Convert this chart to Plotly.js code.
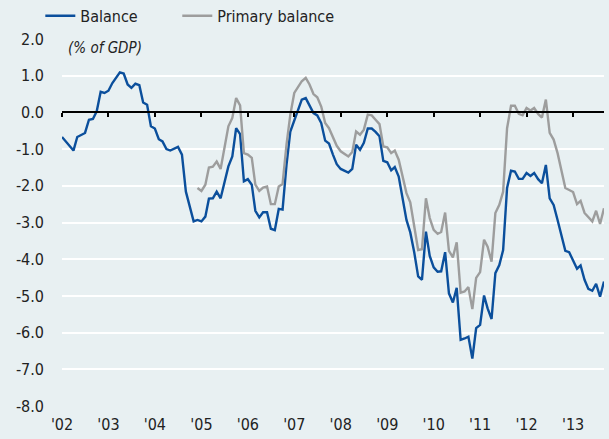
<!DOCTYPE html>
<html>
<head>
<meta charset="utf-8">
<script src="https://cdn.plot.ly/plotly-3.0.1.min.js"></script>
<style>
html,body{margin:0;padding:0;background:#e8f0f2;}
#chart{width:609px;height:439px;}
</style>
</head>
<body>
<div id="chart"></div>
<script>
// Balance (% of GDP), monthly
var balanceDates = [
"2002-01-01","2002-04-01","2002-05-01","2002-07-01","2002-08-01","2002-09-01","2002-10-01","2002-11-01","2002-12-01",
"2003-01-01","2003-02-01","2003-04-01","2003-05-01","2003-06-01","2003-07-01","2003-08-01","2003-09-01","2003-10-01","2003-11-01","2003-12-01",
"2004-01-01","2004-02-01","2004-03-01","2004-04-01","2004-05-01","2004-07-01","2004-08-01","2004-09-01","2004-11-01","2004-12-01",
"2005-01-01","2005-02-01","2005-03-01","2005-04-01","2005-05-01","2005-06-01","2005-08-01","2005-09-01","2005-10-01","2005-11-01","2005-12-01",
"2006-01-01","2006-02-01","2006-03-01","2006-04-01","2006-05-01","2006-06-01","2006-07-01","2006-08-01","2006-09-01","2006-10-01","2006-11-01","2006-12-01",
"2007-02-01","2007-03-01","2007-04-01","2007-05-01","2007-06-01","2007-07-01","2007-08-01","2007-09-01","2007-10-01","2007-11-01","2007-12-01",
"2008-01-01","2008-03-01","2008-04-01","2008-05-01","2008-06-01","2008-07-01","2008-08-01","2008-09-01","2008-10-01","2008-11-01","2008-12-01",
"2009-01-01","2009-02-01","2009-03-01","2009-04-01","2009-05-01","2009-06-01","2009-07-01","2009-08-01","2009-09-01","2009-10-01","2009-11-01","2009-12-01",
"2010-01-01","2010-02-01","2010-03-01","2010-04-01","2010-05-01","2010-06-01","2010-07-01","2010-08-01","2010-09-01","2010-10-01","2010-11-01","2010-12-01",
"2011-01-01","2011-02-01","2011-03-01","2011-04-01","2011-05-01","2011-06-01","2011-07-01","2011-08-01","2011-09-01","2011-10-01","2011-11-01","2011-12-01",
"2012-01-01","2012-02-01","2012-03-01","2012-04-01","2012-05-01","2012-06-01","2012-07-01","2012-08-01","2012-09-01","2012-11-01","2012-12-01",
"2013-01-01","2013-02-01","2013-03-01","2013-04-01","2013-05-01","2013-06-01","2013-07-01","2013-08-01","2013-09-01"
];
var balanceValues = [
-0.67,-1.04,-0.67,-0.56,-0.20,-0.18,0.03,0.56,0.53,
0.59,0.80,1.09,1.06,0.76,0.67,0.78,0.74,0.27,0.21,-0.38,
-0.44,-0.73,-0.79,-1.00,-1.04,-0.94,-1.15,-2.16,-2.97,-2.93,
-2.97,-2.84,-2.35,-2.34,-2.16,-2.34,-1.47,-1.20,-0.43,-0.59,-1.88,
-1.82,-1.97,-2.68,-2.86,-2.72,-2.72,-3.17,-3.21,-2.63,-2.65,-1.43,-0.52,
0.12,0.35,0.39,0.19,-0.02,-0.08,-0.29,-0.77,-0.85,-1.15,-1.41,
-1.54,-1.64,-1.54,-0.88,-1.02,-0.83,-0.44,-0.44,-0.53,-0.65,-1.32,
-1.36,-1.58,-1.49,-1.75,-2.38,-2.93,-3.27,-3.81,-4.47,-4.56,-3.25,-3.91,
-4.22,-4.34,-4.33,-3.81,-4.93,-5.18,-4.78,-6.20,-6.16,-6.11,-6.71,-5.88,
-5.79,-4.99,-5.34,-5.63,-4.38,-4.16,-3.75,-2.06,-1.59,-1.61,-1.81,-1.81,
-1.65,-1.73,-1.65,-1.82,-1.93,-1.43,-2.34,-2.52,-2.93,-3.77,-3.81,
-4.02,-4.26,-4.17,-4.56,-4.81,-4.86,-4.67,-5.02,-4.61
];

// Primary balance (% of GDP), monthly
var primaryDates = [
"2004-12-01",
"2005-01-01","2005-02-01","2005-03-01","2005-04-01","2005-05-01","2005-06-01","2005-08-01","2005-09-01","2005-10-01","2005-11-01","2005-12-01",
"2006-01-01","2006-02-01","2006-03-01","2006-04-01","2006-05-01","2006-06-01","2006-07-01","2006-08-01","2006-09-01","2006-10-01","2006-11-01","2006-12-01",
"2007-01-01","2007-03-01","2007-04-01","2007-05-01","2007-06-01","2007-07-01","2007-08-01","2007-09-01","2007-10-01","2007-11-01","2007-12-01",
"2008-01-01","2008-03-01","2008-04-01","2008-05-01","2008-06-01","2008-07-01","2008-08-01","2008-09-01","2008-10-01","2008-11-01","2008-12-01",
"2009-01-01","2009-02-01","2009-03-01","2009-04-01","2009-05-01","2009-06-01","2009-07-01","2009-08-01","2009-09-01","2009-10-01","2009-11-01","2009-12-01",
"2010-01-01","2010-02-01","2010-03-01","2010-04-01","2010-05-01","2010-06-01","2010-07-01","2010-08-01","2010-09-01","2010-10-01","2010-11-01","2010-12-01",
"2011-01-01","2011-02-01","2011-03-01","2011-04-01","2011-05-01","2011-06-01","2011-07-01","2011-08-01","2011-09-01","2011-10-01","2011-11-01","2011-12-01",
"2012-01-01","2012-02-01","2012-03-01","2012-04-01","2012-05-01","2012-06-01","2012-07-01","2012-08-01","2012-09-01","2012-11-01","2012-12-01",
"2013-01-01","2013-02-01","2013-03-01","2013-04-01","2013-05-01","2013-06-01","2013-07-01","2013-08-01","2013-09-01"
];
var primaryValues = [
-2.06,
-2.14,-1.97,-1.50,-1.48,-1.34,-1.54,-0.38,-0.15,0.39,0.19,-1.11,
-1.15,-1.24,-1.97,-2.14,-2.05,-2.02,-2.50,-2.50,-2.02,-1.95,-0.88,-0.06,
0.53,0.85,0.94,0.76,0.50,0.41,0.16,-0.29,-0.43,-0.70,-0.91,
-1.06,-1.20,-1.08,-0.52,-0.61,-0.47,-0.06,-0.08,-0.20,-0.32,-0.93,
-0.95,-1.11,-1.04,-1.29,-1.75,-2.20,-2.45,-3.10,-3.75,-3.73,-2.34,-2.88,
-3.20,-3.31,-3.26,-2.73,-3.77,-3.95,-3.54,-4.91,-4.88,-4.76,-5.36,-4.51,
-4.35,-3.47,-3.66,-4.07,-2.74,-2.52,-2.16,-0.43,0.18,0.18,-0.04,-0.08,
0.12,0.05,0.12,-0.04,-0.14,0.35,-0.56,-0.74,-1.11,-2.06,-2.11,
-2.17,-2.50,-2.41,-2.74,-2.86,-2.97,-2.68,-3.04,-2.61
];

var seriesNames = ["Balance", "Primary balance"];
var yTickVals = [2,1,0,-1,-2,-3,-4,-5,-6,-7,-8];
var yTickText = ["2.0","1.0","0.0","-1.0","-2.0","-3.0","-4.0","-5.0","-6.0","-7.0","-8.0"];
var xTickVals = ["2002-01-01","2003-01-01","2004-01-01","2005-01-01","2006-01-01","2007-01-01","2008-01-01","2009-01-01","2010-01-01","2011-01-01","2012-01-01","2013-01-01"];
var xTickText = ["'02","'03","'04","'05","'06","'07","'08","'09","'10","'11","'12","'13"];
var unitLabel = "(% of GDP)";

var BG = "#e8f0f2";
var FONT = "'DejaVu Sans Condensed', 'Liberation Sans Narrow', sans-serif";
var TXT = "#222222";
var xRange = ["2002-01-01", "2013-09-01"];

var traces = [
  {x: balanceDates, y: balanceValues, name: seriesNames[0], type: "scatter", mode: "lines",
   line: {color: "#0b4f9c", width: 2.4}, xaxis: "x", yaxis: "y", legend: "legend"},
  {x: primaryDates, y: primaryValues, name: seriesNames[1], type: "scatter", mode: "lines",
   line: {color: "#9d9d9d", width: 2.4}, xaxis: "x2", yaxis: "y", legend: "legend2"}
];

var legendCommon = {orientation: "h", xanchor: "left", yanchor: "middle", y: 1.063,
                    bgcolor: "rgba(0,0,0,0)", font: {family: FONT, size: 16, color: TXT}};
var legend1 = Object.assign({}, legendCommon, {x: -0.04});
var legend2 = Object.assign({}, legendCommon, {x: 0.2127});

var layout = {
  width: 609, height: 439,
  paper_bgcolor: BG, plot_bgcolor: BG,
  margin: {l: 62, r: 5, t: 39, b: 33, autoexpand: false},
  font: {family: FONT, size: 16, color: TXT},
  showlegend: true,
  legend: legend1,
  legend2: legend2,
  xaxis: {type: "date", range: xRange, tickvals: xTickVals, ticktext: xTickText,
          showgrid: false, zeroline: false, showline: false, ticks: "",
          tickfont: {family: FONT, size: 16, color: TXT}, ticklabelstandoff: 7},
  xaxis2: {type: "date", range: xRange, matches: "x", overlaying: "x", anchor: "free", position: 0.8,
           tickvals: xTickVals, showticklabels: false, showgrid: false, zeroline: false,
           showline: true, linecolor: "#000000", linewidth: 2,
           ticks: "outside", ticklen: 4, tickwidth: 2, tickcolor: "#000000"},
  yaxis: {range: [-8, 2], tickvals: yTickVals, ticktext: yTickText,
          showgrid: true, gridcolor: "#ffffff", gridwidth: 2, zeroline: false, showline: false,
          ticks: "", ticklabelstandoff: 17,
          tickfont: {family: FONT, size: 16, color: TXT}},
  annotations: [
    {text: unitLabel, xref: "paper", yref: "paper", x: 0, y: 0.975, xanchor: "left", yanchor: "middle",
     showarrow: false, bgcolor: BG, borderpad: 5,
     font: {family: FONT, size: 15, color: TXT, style: "italic"}}
  ]
};

Plotly.newPlot("chart", traces, layout, {staticPlot: true, displayModeBar: false});
</script>
</body>
</html>
